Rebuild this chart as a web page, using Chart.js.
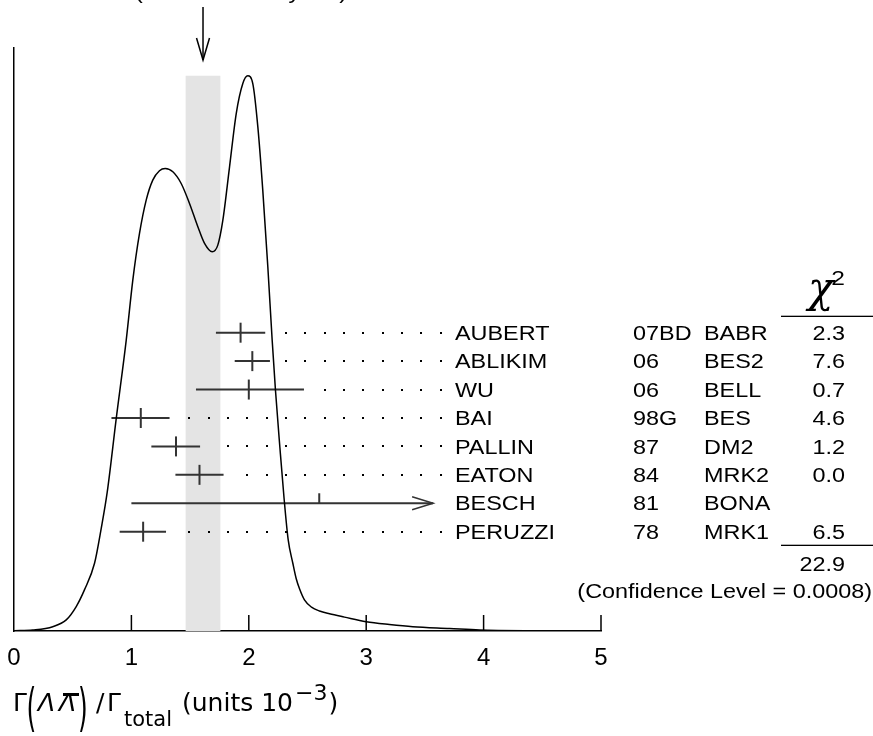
<!DOCTYPE html>
<html><head><meta charset="utf-8">
<script src="https://cdn.jsdelivr.net/npm/chart.js@4.4.1/dist/chart.umd.min.js"></script>
<style>html,body{margin:0;padding:0;background:#fff}canvas{display:block}</style>
</head><body>
<canvas id="c" width="873" height="736" style="width:873px;height:736px"></canvas>
<script>
// ---- data ----
const names = ['AUBERT','ABLIKIM','WU','BAI','PALLIN','EATON','BESCH','PERUZZI'];
const years = ['07BD','06','06','98G','87','84','81','78'];
const experiments = ['BABR','BES2','BELL','BES','DM2','MRK2','BONA','MRK1'];
const values = [1.93, 2.03, 2.00, 1.08, 1.38, 1.58, 2.60, 1.10];
const errLow = [0.21, 0.15, 0.45, 0.25, 0.21, 0.205, 1.60, 0.20];
const errHigh = [0.21, 0.15, 0.47, 0.245, 0.205, 0.205, 0.97, 0.195];
const truncated = [false, false, false, false, false, false, true, false];
const chi2 = ['2.3','7.6','0.7','4.6','1.2','0.0','','6.5'];
const chi2Total = '22.9';
const confLevel = '(Confidence Level = 0.0008)';
const avgValue = 1.61;
const avgError = 0.15;
const scaleText = '(Error scaled by 1.6)';
const ideoX = [0, 0.16, 0.33, 0.445, 0.53, 0.60, 0.686, 0.743, 0.794, 0.871, 0.956, 1.012, 1.069, 1.126, 1.182, 1.239, 1.288, 1.353, 1.424, 1.495, 1.566, 1.623, 1.688, 1.736, 1.779, 1.836, 1.893, 1.949, 1.991, 2.034, 2.077, 2.119, 2.162, 2.199, 2.227, 2.265, 2.30, 2.335, 2.375, 2.404, 2.432, 2.474, 2.534, 2.602, 2.687, 2.815, 3.0, 3.198, 3.397, 3.71, 3.965, 4.476, 5.0];
const ideoY = [0.0005, 0.0018, 0.0077, 0.020, 0.044, 0.074, 0.122, 0.185, 0.250, 0.383, 0.524, 0.632, 0.716, 0.776, 0.812, 0.829, 0.833, 0.827, 0.806, 0.770, 0.728, 0.698, 0.683, 0.695, 0.740, 0.836, 0.932, 0.986, 1.0, 0.986, 0.908, 0.794, 0.656, 0.524, 0.434, 0.33, 0.24, 0.165, 0.122, 0.094, 0.076, 0.056, 0.043, 0.036, 0.031, 0.025, 0.0168, 0.0117, 0.0077, 0.0045, 0.0018, 0.0005, 0.0];
const xTicks = [0, 1, 2, 3, 4, 5];

// ---- build datasets ----
const bandTop = Math.max(...ideoY);
const datasets = [];
datasets.push({
  data: [{x: avgValue - avgError, y: bandTop}, {x: avgValue + avgError, y: bandTop}],
  fill: 'origin', backgroundColor: '#e4e4e4', borderWidth: 0, pointRadius: 0, order: 5
});
datasets.push({
  data: ideoX.map((x, i) => ({x, y: ideoY[i]})),
  borderColor: '#000', borderWidth: 1.5, pointRadius: 0, fill: false,
  cubicInterpolationMode: 'monotone', order: 1
});
values.forEach((v, i) => {
  datasets.push({
    data: [{x: v - errLow[i], y: i}, {x: v + errHigh[i], y: i}],
    yAxisID: 'yRows', borderColor: '#333', borderWidth: 2, pointRadius: 0, fill: false, order: 2
  });
});
datasets.push({
  data: values.map((v, i) => ({x: v, y: i})).filter((p, i) => !truncated[i]),
  yAxisID: 'yRows', showLine: false, pointStyle: 'line', rotation: 90, pointRadius: 10,
  borderColor: '#333', pointBorderColor: '#333', pointBorderWidth: 2, order: 2
});

const SX = 1.17;
function txt(ctx, s, x, y, align, size, family, sx, style) {
  ctx.save();
  ctx.font = (style ? style + ' ' : '') + size + 'px ' + (family || '"Liberation Sans"');
  ctx.textAlign = 'left';
  ctx.textBaseline = 'alphabetic';
  const w = ctx.measureText(s).width * (sx || 1);
  let x0 = x;
  if (align === 'right') x0 = x - w;
  else if (align === 'center') x0 = x - w / 2;
  ctx.translate(x0, y);
  ctx.scale(sx || 1, 1);
  ctx.fillText(s, 0, 0);
  ctx.restore();
  return x0 + w;
}

const overlay = {
  id: 'overlay',
  afterDatasetsDraw(chart) {
    const ctx = chart.ctx;
    const xs = chart.scales.x, rows = chart.scales.yRows, area = chart.chartArea;
    ctx.save();
    ctx.fillStyle = '#000';
    ctx.strokeStyle = '#000';
    // inward ticks
    ctx.lineWidth = 1.5;
    xTicks.forEach(t => {
      if (t === xTicks[0]) return;
      const px = xs.getPixelForValue(t);
      ctx.beginPath(); ctx.moveTo(px, area.bottom); ctx.lineTo(px, area.bottom - 16); ctx.stroke();
    });
    // dotted leaders
    const dotEnd = 440.7, dotStep = 19.33;
    values.forEach((v, i) => {
      if (truncated[i]) return;
      const y = rows.getPixelForValue(i);
      const hiPx = xs.getPixelForValue(v + errHigh[i]);
      for (let dx = dotEnd; dx > hiPx + 12; dx -= dotStep) {
        ctx.fillRect(Math.round(dx) - 1, Math.round(y) - 1, 2, 2);
      }
    });
    // truncated (arrow) rows
    ctx.strokeStyle = '#333';
    values.forEach((v, i) => {
      if (!truncated[i]) return;
      const y = rows.getPixelForValue(i);
      const cx = xs.getPixelForValue(v);
      const tip = xs.getPixelForValue(v + errHigh[i]);
      ctx.lineWidth = 2;
      ctx.beginPath(); ctx.moveTo(cx, y); ctx.lineTo(cx, y - 10); ctx.stroke();
      ctx.lineWidth = 1.5;
      ctx.beginPath(); ctx.moveTo(tip - 21, y - 6.5); ctx.lineTo(tip, y); ctx.lineTo(tip - 21, y + 6.5); ctx.stroke();
    });
    // average arrow
    ctx.strokeStyle = '#000';
    ctx.lineWidth = 1.5;
    const ax = xs.getPixelForValue(avgValue);
    ctx.beginPath(); ctx.moveTo(ax, 7); ctx.lineTo(ax, 60); ctx.stroke();
    ctx.beginPath(); ctx.moveTo(ax - 6.5, 38); ctx.lineTo(ax, 60); ctx.lineTo(ax + 6.5, 38); ctx.stroke();
    ctx.restore();

    // texts
    ctx.save();
    ctx.fillStyle = '#000';
    const colName = 455, colYear = 633, colExp = 704, colChi = 845;
    names.forEach((n, i) => {
      const y = rows.getPixelForValue(i) + 7.2;
      txt(ctx, n, colName, y, 'left', 20, null, SX);
      txt(ctx, years[i], colYear, y, 'left', 20, null, SX);
      txt(ctx, experiments[i], colExp, y, 'left', 20, null, SX);
      if (chi2[i]) txt(ctx, chi2[i], colChi, y, 'right', 20, null, SX);
    });
    const r0 = rows.getPixelForValue(0);
    const rN = rows.getPixelForValue(names.length - 1);
    // chi2 header
    txt(ctx, 'χ', 808, r0 - 31, 'left', 42, '"DejaVu Serif"', 1, 'italic');
    txt(ctx, '2', 845, r0 - 48, 'right', 21, null, SX);
    ctx.fillRect(781, r0 - 17, 92, 1.3);
    ctx.fillRect(781, rN + 13, 92, 1.3);
    txt(ctx, chi2Total, colChi, rN + 39.5, 'right', 20, null, SX);
    txt(ctx, confLevel, 872, rN + 66.5, 'right', 20, null, SX);
    // clipped header at top
    txt(ctx, scaleText, 135, -1, 'left', 20, null, SX);

    // x axis title
    const base = 711;
    const F = '"DejaVu Sans"';
    txt(ctx, 'Γ', 13, base, 'left', 25, F, 1);
    ctx.save(); ctx.font = '25px ' + F; ctx.translate(26.5, 725); ctx.scale(1, 2.05); ctx.fillText('(', 0, 0); ctx.restore();
    txt(ctx, 'Λ', 38, base, 'left', 25, F, 1, 'italic');
    txt(ctx, 'Λ', 59, base, 'left', 25, F, 1, 'italic');
    ctx.fillRect(63, 693, 16, 3);
    ctx.save(); ctx.font = '25px ' + F; ctx.translate(78, 725); ctx.scale(1, 2.05); ctx.fillText(')', 0, 0); ctx.restore();
    txt(ctx, '/', 96, base, 'left', 25, F, 1);
    txt(ctx, 'Γ', 107, base, 'left', 25, F, 1);
    txt(ctx, 'total', 124, 726, 'left', 21, F, 1);
    const e1 = txt(ctx, '(units 10', 182, base, 'left', 25, F, 1);
    const e2 = txt(ctx, '−3', e1 + 2, 700, 'left', 22, F, 1);
    txt(ctx, ')', e2 + 1, base, 'left', 25, F, 1);
    ctx.restore();
  }
};

new Chart(document.getElementById('c'), {
  type: 'line',
  data: { datasets },
  options: {
    responsive: false, animation: false,
    layout: { padding: { left: 14, right: 272, top: 48, bottom: 0 } },
    plugins: { legend: { display: false }, tooltip: { enabled: false } },
    scales: {
      x: {
        type: 'linear', min: 0, max: 5,
        afterBuildTicks: s => { s.ticks = xTicks.map(v => ({ value: v })); },
        ticks: { font: { family: '"Liberation Sans"', size: 24 }, color: '#000', padding: 5, maxRotation: 0 },
        grid: { display: false },
        border: { display: true, color: '#000', width: 1.5 },
        afterFit: s => { s.height = 105; s.paddingLeft = 0; s.paddingRight = 0; }
      },
      y: {
        type: 'linear', min: 0, max: 1.05,
        ticks: { display: false },
        grid: { display: false },
        border: { display: true, color: '#000', width: 1.5 },
        afterFit: s => { s.width = 0; }
      },
      yRows: { axis: 'y', type: 'linear', position: 'left', min: -10.014, max: 10.493, reverse: true, display: false }
    }
  },
  plugins: [overlay]
});
</script>
</body></html>
